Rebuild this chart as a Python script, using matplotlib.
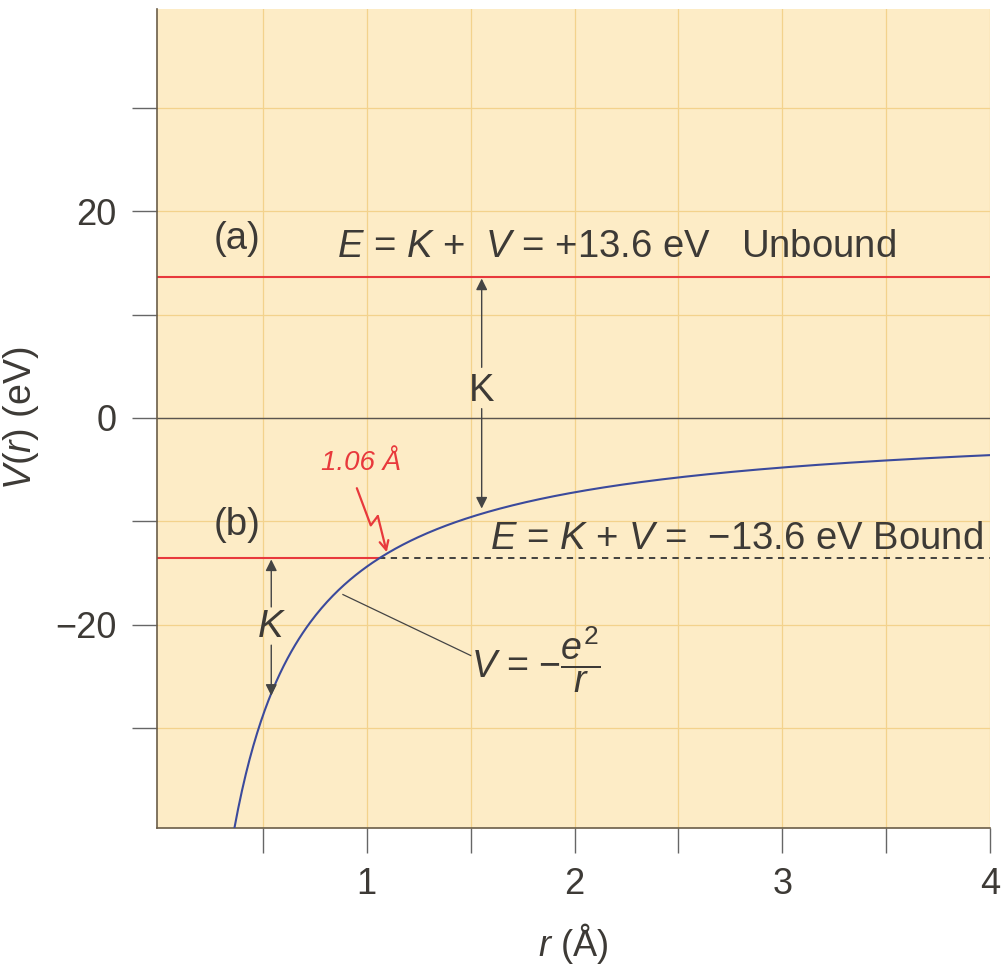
import numpy as np
import matplotlib
matplotlib.use("Agg")
import matplotlib.pyplot as plt

# =========================
# DATOS
# =========================
e2 = 14.4                      # e^2 en eV*Angstrom
r_min, r_max = e2 / 39.7, 4.0
E_unbound = 13.6
E_bound = -13.6
r_bohr = 1.06

xticks = [0.5, 1, 1.5, 2, 2.5, 3, 3.5, 4]
xticklabels = ["", "1", "", "2", "", "3", "", "4"]
yticks = [-30, -20, -10, 0, 10, 20, 30]
yticklabels = ["", "\u221220", "", "0", "", "20", ""]

# =========================
# ESTILO
# =========================
plt.rcParams['font.family'] = ['Liberation Sans', 'DejaVu Sans']
plt.rcParams['mathtext.fontset'] = 'custom'
plt.rcParams['mathtext.rm'] = 'Liberation Sans'
plt.rcParams['mathtext.it'] = 'Liberation Sans:italic'
plt.rcParams['mathtext.bf'] = 'Liberation Sans:bold'

txt = '#3d3a36'
bg = '#fdecc6'
grid = '#f3d28c'
fs = 27.5

fig = plt.figure(figsize=(10.02, 9.65), dpi=100)
ax = fig.add_axes([0.1567, 0.142, 0.988 - 0.1567, 0.9907 - 0.142])
ax.set_facecolor(bg)
ax.set_xlim(-0.01, 4.0)
ax.set_ylim(-39.7, 39.6)

# rejilla
for x in xticks:
    ax.axvline(x, color=grid, lw=0.9, zorder=0)
for y in yticks:
    ax.axhline(y, color=grid, lw=0.9, zorder=0)
ax.axhline(0, color='#5a5550', lw=1.0, zorder=1)

# curva de potencial
r = np.linspace(r_min, r_max, 400)
ax.plot(r, -e2 / r, color='#3b4a9c', lw=1.5, zorder=3)

# niveles de energia
ax.plot([-0.01, 4.0], [E_unbound, E_unbound], color='#e8393c', lw=1.5, zorder=2)
ax.plot([-0.01, r_bohr], [E_bound, E_bound], color='#e8393c', lw=1.5, zorder=2)
ax.plot([r_bohr, 4.0], [E_bound, E_bound], color='#333333', lw=1.3,
        ls=(0, (3.5, 3)), zorder=2)

# flechas K
ap = dict(arrowstyle='-|>', color='#444444', lw=1.0, mutation_scale=17,
          shrinkA=0, shrinkB=0)
xa = 1.553
ax.annotate('', xy=(xa, E_unbound - 0.1), xytext=(xa, 4.9), arrowprops=ap)
ax.annotate('', xy=(xa, -e2 / xa + 0.5), xytext=(xa, 0.9), arrowprops=ap)
ax.text(xa, 2.6, 'K', fontsize=fs, color=txt, ha='center', va='center')

xb = 0.54
ax.annotate('', xy=(xb, E_bound - 0.1), xytext=(xb, -18.3), arrowprops=ap)
ax.annotate('', xy=(xb, -26.9), xytext=(xb, -22.0), arrowprops=ap)
ax.text(xb, -20.2, '$K$', fontsize=fs, color=txt, ha='center', va='center')

# textos
ax.text(0.375, 17.3, '(a)', fontsize=fs, color=txt, ha='center', va='center')
ax.text(0.375, -10.4, '(b)', fontsize=fs, color=txt, ha='center', va='center')
ax.text(0.855, 16.6, '$E$ = $K$ +  $V$ = +13.6 eV   Unbound', fontsize=fs,
        color=txt, ha='left', va='center')
ax.text(1.595, -11.7, '$E$ = $K$ + $V$ =  \u221213.6 eV Bound', fontsize=fs,
        color=txt, ha='left', va='center')

ax.plot([0.885, 1.5], [-17.1, -23.0], color='#444444', lw=0.9, zorder=2)
ax.text(1.5, -23.4, r'$V$ = $-\dfrac{e^2}{r}$', fontsize=27, color=txt,
        ha='left', va='center')

# anotacion manuscrita en rojo
red = '#e8393c'
ax.text(0.97, -4.4, '1.06 \u00c5', fontsize=20, color=red, ha='center',
        va='center', style='italic')
sx = [0.952, 1.019, 1.053]
sy = [-6.8, -10.4, -9.5]
ax.plot(sx, sy, color=red, lw=1.6, solid_capstyle='round')
ax.annotate('', xy=(1.096, -13.0), xytext=(1.053, -9.5),
            arrowprops=dict(arrowstyle='->', color=red, lw=1.6,
                            mutation_scale=16, shrinkA=0, shrinkB=0))

# ejes
for s in ['top', 'right']:
    ax.spines[s].set_visible(False)
for s in ['left', 'bottom']:
    ax.spines[s].set_color('#6b5e48')
    ax.spines[s].set_linewidth(1.2)

ax.set_xticks(xticks)
ax.set_xticklabels(xticklabels)
ax.set_yticks(yticks)
ax.set_yticklabels(yticklabels)
ax.tick_params(direction='out', length=18, width=1.0, color='#666666',
               labelsize=26, labelcolor=txt)
ax.tick_params(axis='y', pad=11)
ax.tick_params(axis='x', pad=10)

ax.set_xlabel('$r$ (\u00c5)', fontsize=26, color=txt, labelpad=14)
ax.set_ylabel('$V(r)$ (eV)', fontsize=27, color=txt, labelpad=10)

fig.savefig('out.png', dpi=100, facecolor='white')
